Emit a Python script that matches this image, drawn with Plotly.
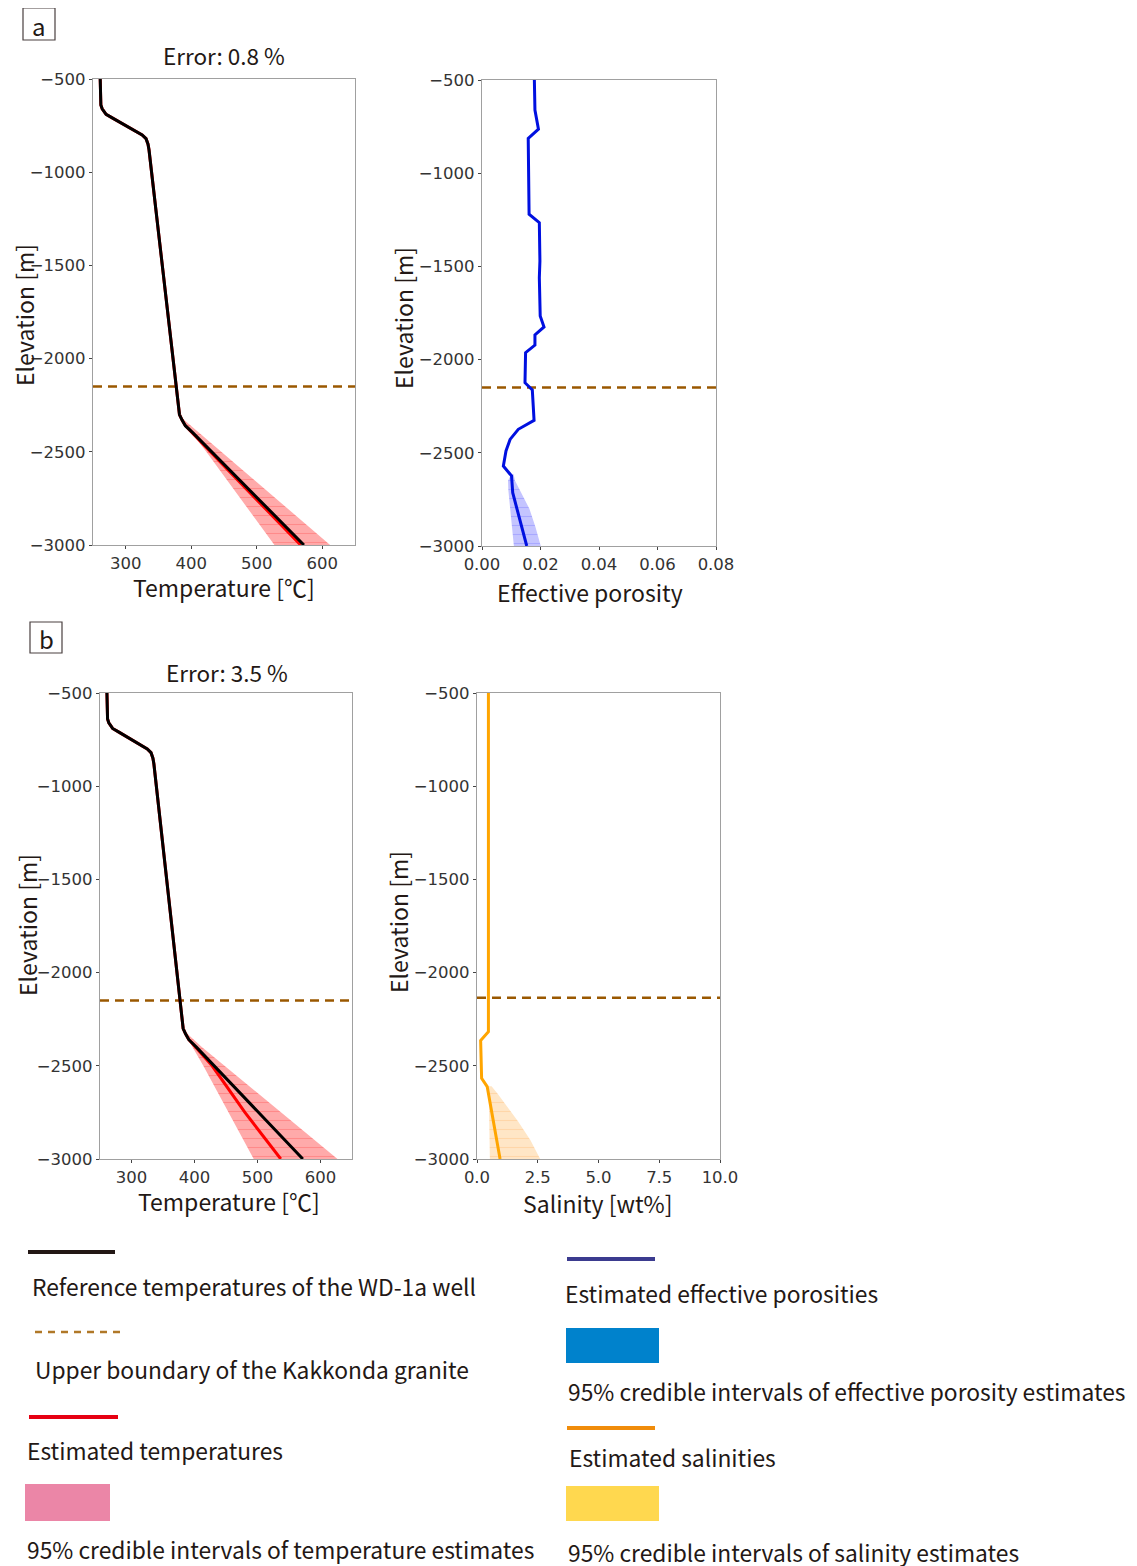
import plotly.graph_objects as go

W, H = 1137, 1566
OFF = 8  # page body margin

# ---------------- data ----------------
boundary_elev = -2150

ref_elev = [-500, -640, -660, -690, -710, -740, -770, -800, -820, -850, -880, -1000, -1500, -2000, -2150, -2300, -2330, -2360, -2400, -2500, -2750, -3000]
ref_temp = [261, 262, 264, 270, 280, 295, 310, 325, 331, 334, 335.5, 339.5, 356, 372, 377, 382, 386, 391, 403, 431, 501, 572]

est_a_elev = [-500, -640, -660, -690, -710, -740, -770, -800, -820, -850, -880, -1000, -1500, -2000, -2150, -2300, -2330, -2360, -2400, -2500, -2750, -3000]
est_a_temp = [261, 262, 264, 270, 280, 295, 310, 325, 331, 334, 335.5, 339.5, 356, 372, 377, 382, 386, 391, 402, 429, 498, 567]

ci_a_elev = [-2310, -2400, -2500, -2750, -3000]
ci_a_low = [383, 401, 423, 475, 527]
ci_a_high = [383, 413, 446, 529, 612]

est_b_elev = [-500, -640, -660, -690, -710, -740, -770, -800, -820, -850, -880, -1000, -1500, -2000, -2150, -2300, -2330, -2360, -2400, -2500, -2750, -3000]
est_b_temp = [261, 262, 264, 270, 280, 295, 310, 325, 331, 334, 335.5, 339.5, 356, 372, 377, 382, 386, 391, 402, 428, 480, 537]

ci_b_elev = [-2310, -2400, -2500, -2750, -3000]
ci_b_low = [383, 397, 414, 454, 494]
ci_b_high = [383, 412, 448, 538, 627]

por_elev = [-500, -661, -764, -813, -1220, -1265, -1471, -1561, -1766, -1825, -1868, -1922, -1963, -2124, -2162, -2326, -2374, -2428, -2490, -2571, -2624, -2714, -3000]
por_val = [0.0179, 0.0181, 0.0193, 0.0158, 0.0161, 0.0196, 0.0198, 0.0196, 0.0199, 0.0212, 0.0181, 0.0181, 0.0149, 0.0147, 0.0172, 0.0178, 0.0124, 0.0096, 0.0082, 0.0073, 0.0101, 0.0105, 0.0153]

por_ci_elev = [-2615, -2650, -2700, -2800, -2900, -3000]
por_ci_low = [0.0100, 0.0089, 0.0090, 0.0097, 0.0103, 0.0109]
por_ci_high = [0.0108, 0.0113, 0.0128, 0.0162, 0.0183, 0.0201]

sal_elev = [-500, -2317, -2365, -2567, -2612, -3000]
sal_val = [0.47, 0.47, 0.15, 0.19, 0.42, 0.95]

sal_ci_elev = [-2610, -2650, -2700, -2800, -2900, -3000]
sal_ci_low = [0.42, 0.47, 0.49, 0.50, 0.52, 0.53]
sal_ci_high = [0.60, 0.85, 1.15, 1.70, 2.20, 2.60]

temp_ticks = [300, 400, 500, 600]
elev_ticks = [-3000, -2500, -2000, -1500, -1000, -500]
por_ticks = [0.00, 0.02, 0.04, 0.06, 0.08]
sal_ticks = [0.0, 2.5, 5.0, 7.5, 10.0]

legend_left = ["Reference temperatures of the WD-1a well",
               "Upper boundary of the Kakkonda granite",
               "Estimated temperatures",
               "95% credible intervals of temperature estimates"]
legend_right = ["Estimated effective porosities",
                "95% credible intervals of effective porosity estimates",
                "Estimated salinities",
                "95% credible intervals of salinity estimates"]

# ---------------- helpers ----------------
def px(x):
    return (x - OFF) / W

def py(y):
    return 1 - (y - OFF) / H

TXT = "Noto Sans CJK JP"
TICKF = dict(family="DejaVu Sans", size=16.5, color="#333333")
BROWN = "#9A5800"

fig = go.Figure()

def band(xlow, xhigh, elev, xa, ya, bg, fg):
    fig.add_trace(go.Scatter(
        x=list(xlow) + list(xhigh)[::-1], y=list(elev) + list(elev)[::-1],
        xaxis=xa, yaxis=ya, mode="lines", line=dict(width=0),
        fill="toself", fillcolor=bg,
        fillpattern=dict(shape="-", bgcolor=bg, fgcolor=fg, size=9, solidity=0.12, fillmode="replace"),
        showlegend=False, hoverinfo="skip"))

def line(x, y, xa, ya, color, width=3):
    fig.add_trace(go.Scatter(x=x, y=y, xaxis=xa, yaxis=ya, mode="lines",
                             line=dict(color=color, width=width), showlegend=False))

def hline(y, xr, xa, ya):
    fig.add_trace(go.Scatter(x=xr, y=[y, y], xaxis=xa, yaxis=ya, mode="lines",
                             line=dict(color=BROWN, width=2.5, dash="9px,6px"), showlegend=False))

# panel a temperature
band(ci_a_low, ci_a_high, ci_a_elev, "x", "y", "#ffaaaa", "#ff8a8a")
hline(boundary_elev, [250, 650], "x", "y")
line(est_a_temp, est_a_elev, "x", "y", "red")
line(ref_temp, ref_elev, "x", "y", "black")

# panel a porosity
band(por_ci_low, por_ci_high, por_ci_elev, "x2", "y2", "#c4c4ff", "#a8a8ff")
hline(boundary_elev, [0, 0.08], "x2", "y2")
line(por_val, por_elev, "x2", "y2", "#0010e0")

# panel b temperature
band(ci_b_low, ci_b_high, ci_b_elev, "x3", "y3", "#ffaaaa", "#ff8a8a")
hline(boundary_elev, [250, 650], "x3", "y3")
line(est_b_temp, est_b_elev, "x3", "y3", "red")
line(ref_temp, ref_elev, "x3", "y3", "black")

# panel b salinity
band(sal_ci_low, sal_ci_high, sal_ci_elev, "x4", "y4", "#ffe6c6", "#ffd6a8")
hline(boundary_elev + 15, [0, 10], "x4", "y4")
line(sal_val, sal_elev, "x4", "y4", "#ffa500")

axcommon = dict(showline=True, linecolor="#a0a0a0", linewidth=1.3, mirror=True,
                ticks="outside", ticklen=3, tickcolor="#444444", showgrid=False,
                zeroline=False, tickfont=TICKF, automargin=False)

def xax(x0, x1, anchor, rng, tv, fmt):
    d = dict(axcommon)
    d.update(domain=[px(x0), px(x1)], anchor=anchor, range=rng, tickvals=tv, tickformat=fmt)
    return d

def yax(y0, y1, anchor):
    d = dict(axcommon)
    d.update(domain=[py(y1), py(y0)], anchor=anchor, range=[-3000, -500], tickvals=elev_ticks)
    return d

fig.update_layout(
    template="none",
    width=W, height=H, margin=dict(l=0, r=0, t=0, b=0, pad=0, autoexpand=False),
    paper_bgcolor="white", plot_bgcolor="white", showlegend=False,
    xaxis=xax(93, 355, "y", [250, 650], temp_ticks, "d"),
    yaxis=yax(79, 545, "x"),
    xaxis2=xax(482, 716, "y2", [0, 0.08], por_ticks, ".2f"),
    yaxis2=yax(80, 546, "x2"),
    xaxis3=xax(100, 352, "y3", [250, 650], temp_ticks, "d"),
    yaxis3=yax(693, 1159, "x3"),
    xaxis4=xax(477, 720, "y4", [0, 10], sal_ticks, ".1f"),
    yaxis4=yax(693, 1159, "x4"),
)

anns = []
def txt(x, y, s, size=23, angle=0, xanchor="center"):
    anns.append(dict(x=px(x), y=py(y), xref="paper", yref="paper", text=s, showarrow=False,
                     textangle=angle, xanchor=xanchor, yanchor="middle",
                     font=dict(family=TXT, size=size, color="#231815")))

txt(224, 55, "Error: 0.8 %", 22.5)
txt(227, 672, "Error: 3.5 %", 22.5)
txt(224, 587, "Temperature [℃]", 23)
txt(590, 592, "Effective porosity", 23)
txt(229, 1201, "Temperature [℃]", 23)
txt(598, 1203, "Salinity [wt%]", 23)
txt(24, 315, "Elevation [m]", 23, -90)
txt(403, 318, "Elevation [m]", 23, -90)
txt(27, 925, "Elevation [m]", 23, -90)
txt(398, 922, "Elevation [m]", 23, -90)
txt(39, 25, "a", 24)
txt(46, 638, "b", 24)

shapes = []
def rect(x0, y0, x1, y1, fill=None, lc=None, lw=1.2):
    shapes.append(dict(type="rect", xref="paper", yref="paper", x0=px(x0), x1=px(x1), y0=py(y1), y1=py(y0),
                       fillcolor=fill if fill else "rgba(0,0,0,0)",
                       line=dict(color=lc if lc else "rgba(0,0,0,0)", width=lw if lc else 0)))

def seg(x0, x1, y, color, width=4, dash=None):
    d = dict(color=color, width=width)
    if dash:
        d["dash"] = dash
    shapes.append(dict(type="line", xref="paper", yref="paper", x0=px(x0), x1=px(x1), y0=py(y), y1=py(y), line=d))

rect(23, 8, 55, 40, lc="#4a4040")
rect(30, 622, 62, 653, lc="#4a4040")

LF = 22.8
# legend (left column)
seg(28, 115, 1252, "#231815")
txt(30, 1286, legend_left[0], LF, xanchor="left")
seg(35, 120, 1332, "#b07828", 2.5, "7px,6px")
txt(33, 1369, legend_left[1], LF, xanchor="left")
seg(29, 118, 1417, "#e60012")
txt(25, 1450, legend_left[2], LF, xanchor="left")
rect(25, 1484, 110, 1521, fill="#eb86a7")
txt(25, 1549, legend_left[3], LF, xanchor="left")

# legend (right column)
seg(567, 655, 1259, "#3b3b8f")
txt(563, 1293, legend_right[0], LF, xanchor="left")
rect(566, 1328, 659, 1363, fill="#0082cc")
txt(566, 1391, legend_right[1], LF, xanchor="left")
seg(567, 655, 1428, "#f08c0a")
txt(567, 1457, legend_right[2], LF, xanchor="left")
rect(566, 1486, 659, 1521, fill="#ffd84f")
txt(566, 1552, legend_right[3], LF, xanchor="left")

fig.update_layout(annotations=anns, shapes=shapes)
fig.write_html("out.html")
